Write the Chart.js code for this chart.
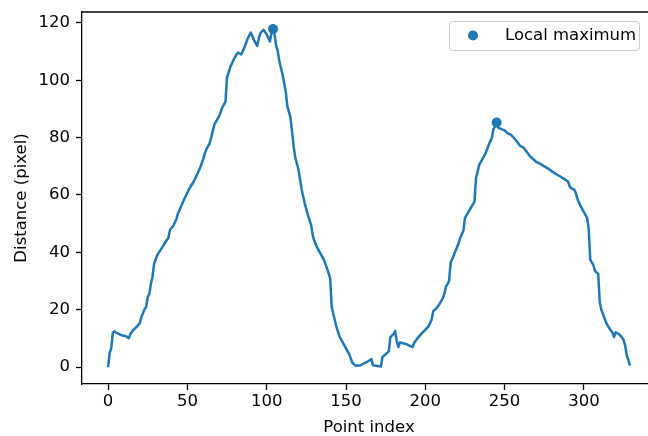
<!DOCTYPE html>
<html>
<head>
<meta charset="utf-8">
<script src="https://cdn.jsdelivr.net/npm/chart.js@4"></script>
<style>
  html, body { margin: 0; padding: 0; overflow: hidden; background: #fff; }
  canvas { display: block; }
</style>
</head>
<body>
<canvas id="dist" width="664" height="436"></canvas>
<script>
// ============ distance along the contour ============
var pointIndex = [
  0, 1, 2, 3, 4, 5, 7, 9, 11, 12, 13, 14, 16, 18, 20, 21, 22, 23, 24, 25,
  26, 27, 28, 29, 30, 31, 33, 35, 36, 38, 39, 41, 43, 44, 46, 48, 51, 54, 56, 58,
  60, 61, 62, 64, 65, 67, 70, 72, 74, 75, 77, 79, 81, 82, 84, 86, 88, 90, 92, 94,
  95, 96, 98, 100, 102, 103, 104, 105, 106, 107, 108, 110, 111, 112, 113, 115, 116, 117, 118, 120,
  122, 124, 126, 128, 129, 130, 132, 134, 136, 138, 140, 141, 142, 144, 146, 148, 150, 152, 154, 156,
  159, 162, 164, 166, 167, 170, 172, 173, 175, 177, 178, 180, 181, 182, 183, 184, 186, 188, 190, 192,
  193, 195, 198, 200, 202, 204, 205, 207, 209, 211, 212, 213, 215, 216, 218, 219, 221, 222, 224, 225,
  226, 228, 231, 232, 234, 236, 238, 240, 242, 243, 244, 245, 246, 248, 250, 252, 254, 256, 258, 260,
  262, 264, 266, 268, 270, 272, 275, 278, 281, 284, 287, 290, 291, 292, 294, 295, 296, 298, 300, 302,
  303, 304, 306, 307, 309, 310, 311, 312, 314, 316, 318, 319, 320, 322, 323, 325, 326, 327, 328, 329
];
var distance = [
  0, 5, 6.5, 12, 12.5, 12, 11.5, 11, 10.8, 10.5, 10, 11.5, 13, 14, 15.3, 17.5, 18.8, 20.2, 21, 24.5,
  25.5, 29, 31.5, 36, 37.5, 39, 40.8, 42.5, 43.5, 45, 47.8, 49.2, 51.5, 53.5, 56, 58.5, 62, 64.7, 67, 69.5,
  72.5, 74.5, 76, 78, 80, 84.5, 87.5, 90.5, 92.5, 101, 104.5, 107, 109, 109.7, 109, 111.5, 114.5, 116.6, 114, 112,
  114.5, 116.4, 117.6, 116, 113.5, 116.4, 117.9, 115.8, 112, 110, 106.5, 102, 99, 96, 91, 87, 82, 77, 73, 69,
  62, 57, 53, 49.5, 46, 44, 41.5, 39.5, 37.5, 34.5, 31, 21, 18.5, 14, 10.5, 8.5, 6.5, 4.5, 1.5, 0.5,
  0.6, 1.5, 2, 2.8, 0.6, 0.4, 0.2, 3.5, 4.5, 5.5, 10.5, 11.5, 12.6, 9, 7, 8.6, 8.3, 8, 7.5, 7,
  8.5, 10, 11.9, 13, 14.2, 16.5, 19.5, 20.5, 22, 24, 25.5, 28, 30, 36.5, 39, 40.5, 43.2, 45, 47.5, 52,
  53, 54.8, 57.7, 66, 70.5, 72.5, 74.5, 77.5, 80, 83, 84, 85.3, 83.5, 83, 82.5, 81.5, 81, 79.8, 78.5, 77,
  76.5, 75, 73.5, 72.5, 71.5, 71, 70, 69, 67.8, 66.8, 65.8, 64.7, 63, 62.4, 61.8, 60.5, 58.5, 56, 54, 52,
  48.5, 37.5, 35.5, 33.5, 32.5, 22.5, 20, 18.5, 15.5, 13.5, 12, 10.5, 12.1, 11.5, 11, 9.5, 7.5, 4, 2.5, 0.5
];
var peakIndex = [104, 245];
var xTicks = [0, 50, 100, 150, 200, 250, 300];
var yTicks = [0, 20, 40, 60, 80, 100, 120];

var blue = '#1f77b4';
var font = { family: 'DejaVu Sans', size: 16.5 };

var linePoints = pointIndex.map(function (x, i) { return { x: x, y: distance[i] }; });
var peakPoints = peakIndex.map(function (x) {
  return { x: x, y: distance[pointIndex.indexOf(x)] };
});

// top/right spines plus the legend box
var frame = {
  id: 'frame',
  afterDraw: function (chart) {
    var c = chart.ctx, a = chart.chartArea;
    c.save();
    c.strokeStyle = '#000';
    c.lineWidth = 1.3;
    c.beginPath();
    c.moveTo(a.left, a.top);
    c.lineTo(a.right, a.top);
    c.lineTo(a.right, a.bottom);
    c.stroke();

    // legend
    var lx = 449.5, ly = 21.5, lw = 190, lh = 29, r = 3;
    c.beginPath();
    c.roundRect(lx, ly, lw, lh, r);
    c.fillStyle = 'rgba(255,255,255,0.8)';
    c.fill();
    c.strokeStyle = '#cccccc';
    c.lineWidth = 1;
    c.stroke();
    c.beginPath();
    c.arc(473, 35.5, 5, 0, Math.PI * 2);
    c.fillStyle = blue;
    c.fill();
    c.fillStyle = '#000';
    c.font = '16.5px "DejaVu Sans"';
    c.textBaseline = 'middle';
    c.fillText(chart.data.datasets[1].label, 505, 36);
    c.restore();
  }
};

var chart = new Chart(document.getElementById('dist'), {
  type: 'line',
  data: {
    datasets: [{
      label: 'Distance',
      data: linePoints,
      borderColor: blue,
      borderWidth: 2.5,
      borderJoinStyle: 'round',
      pointRadius: 0,
      tension: 0,
      fill: false
    }, {
      type: 'scatter',
      label: 'Local maximum',
      data: peakPoints,
      backgroundColor: blue,
      borderWidth: 0,
      pointRadius: 5,
      pointHoverRadius: 5
    }]
  },
  options: {
    responsive: false,
    animation: false,
    events: [],
    layout: { padding: { left: 0, top: 12, right: 8, bottom: 0 } },
    plugins: { legend: { display: false }, tooltip: { enabled: false } },
    scales: {
      x: {
        type: 'linear',
        min: -16.45,
        max: 345.45,
        afterBuildTicks: function (s) { s.ticks = xTicks.map(function (v) { return { value: v }; }); },
        afterFit: function (s) { s.height = 52; s.paddingLeft = 0; s.paddingRight = 0; },
        grid: { drawOnChartArea: false, drawTicks: true, tickLength: 6, tickColor: '#000', tickWidth: 1.3 },
        border: { display: true, color: '#000', width: 1.3 },
        ticks: { color: '#000', font: font, padding: 2, maxRotation: 0 },
        title: { display: true, text: 'Point index', color: '#000', font: font, padding: { top: 0, bottom: -2 } }
      },
      y: {
        min: -5.9,
        max: 123.8,
        afterBuildTicks: function (s) { s.ticks = yTicks.map(function (v) { return { value: v }; }); },
        afterFit: function (s) { s.width = 82; s.paddingTop = 0; s.paddingBottom = 0; },
        grid: { drawOnChartArea: false, drawTicks: true, tickLength: 6, tickColor: '#000', tickWidth: 1.3 },
        border: { display: true, color: '#000', width: 1.3 },
        ticks: { color: '#000', font: font, padding: 6 },
        title: { display: true, text: 'Distance (pixel)', color: '#000', font: font, padding: { top: 12, bottom: 0 } }
      }
    }
  },
  plugins: [frame]
});
</script>
</body>
</html>
